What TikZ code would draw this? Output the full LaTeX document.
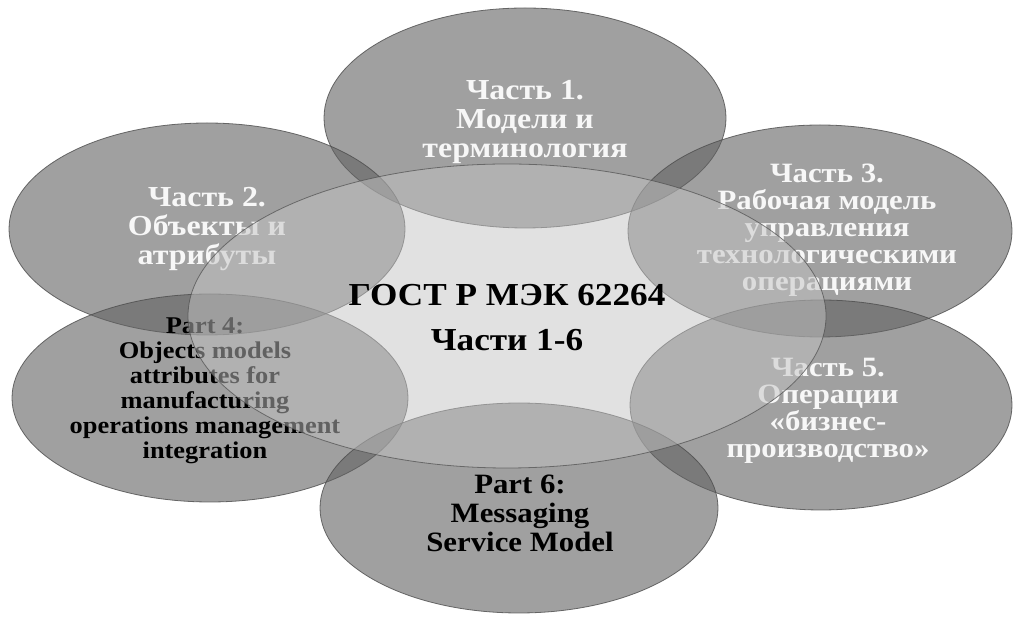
\documentclass[tikz,border=0pt]{standalone}
\usepackage{fontspec}
\setmainfont{Liberation Serif}[FakeStretch=1.1]
\usetikzlibrary{shapes.geometric}
\definecolor{pgray}{gray}{0.38}
\definecolor{cgray}{gray}{0.765}
\definecolor{edgegray}{gray}{0.3}
\definecolor{txtwhite}{gray}{0.97}
\begin{document}
\begin{tikzpicture}[x=1pt,y=1pt,
  petal/.style={ellipse, draw=edgegray, line width=0.8pt, fill=pgray,
    fill opacity=0.6, draw opacity=0.8, inner sep=0pt},
  core/.style={ellipse, draw=edgegray, line width=0.8pt, fill=cgray,
    fill opacity=0.5, draw opacity=0.7, inner sep=0pt},
  lbl/.style={align=center, inner sep=0pt, text opacity=1},
  wlbl/.style={lbl, text=txtwhite},
  blbl/.style={lbl, text=black}]
\useasboundingbox (0,0) rectangle (1014,618);
% petals
\node[petal, minimum width=402pt, minimum height=220pt] (p1) at (525,500) {};
\node[petal, minimum width=396pt, minimum height=212pt] (p2) at (207,389) {};
\node[petal, minimum width=384pt, minimum height=212pt] (p3) at (820,387) {};
\node[petal, minimum width=396pt, minimum height=208pt] (p4) at (210,220) {};
\node[petal, minimum width=382pt, minimum height=210pt] (p5) at (821,213) {};
\node[petal, minimum width=398pt, minimum height=210pt] (p6) at (519,110) {};
% petal labels
\node[wlbl, font=\fontsize{29}{29}\selectfont\bfseries] (t1) at (525,496)
  {Часть 1.\\Модели и\\терминология};
\node[wlbl, font=\fontsize{29}{29}\selectfont\bfseries] (t2) at (207,389)
  {Часть 2.\\Объекты и\\атрибуты};
\node[wlbl, font=\fontsize{28}{27}\selectfont\bfseries] (t3) at (827,388)
  {Часть 3.\\Рабочая модель\\управления\\технологическими\\операциями};
\node[blbl, font=\fontsize{24}{25}\selectfont\bfseries] (t4) at (205,227)
  {Part 4:\\Objects models\\attributes for\\manufacturing\\operations management\\integration};
\node[wlbl, font=\fontsize{28}{27}\selectfont\bfseries] (t5) at (828,207)
  {Часть 5.\\Операции\\«бизнес-\\производство»};
\node[blbl, font=\fontsize{28}{29}\selectfont\bfseries] (t6) at (520,105)
  {Part 6:\\Messaging\\Service Model};
% centre
\node[core, minimum width=638pt, minimum height=304pt] (c) at (507,302) {};
\node[blbl, font=\fontsize{32}{45}\selectfont\bfseries] (tc) at (507,300)
  {ГОСТ Р МЭК 62264\\Части 1-6};
\end{tikzpicture}
\end{document}
